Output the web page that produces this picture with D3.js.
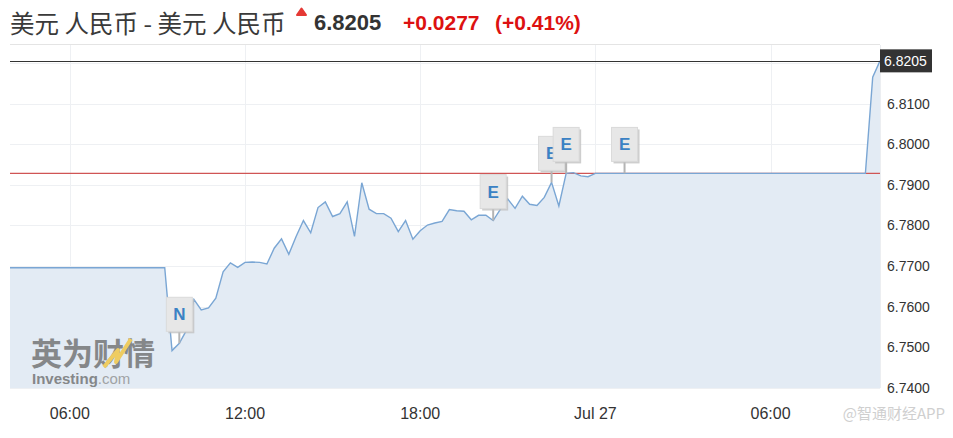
<!DOCTYPE html>
<html>
<head>
<meta charset="UTF-8">
<title>USD CNY</title>
<script src="https://cdn.jsdelivr.net/npm/d3@7"></script>
<style>
body { margin: 0; background: #fff; }
svg { display: block; font-family: "Liberation Sans", Arial, sans-serif; }
.grid line { stroke: #eef0f3; stroke-width: 1; }
.ylab { fill: #333; font-size: 14px; }
.xlab { fill: #333; font-size: 16px; text-anchor: middle; }
</style>
</head>
<body>
<svg width="953" height="438"></svg>
<script>
// 15 minute quotes
var times = [
  "2018-07-26 04:00", "2018-07-26 09:15", "2018-07-26 09:30", "2018-07-26 09:45",
  "2018-07-26 10:00", "2018-07-26 10:15", "2018-07-26 10:30", "2018-07-26 10:45",
  "2018-07-26 11:00", "2018-07-26 11:15", "2018-07-26 11:30", "2018-07-26 11:45",
  "2018-07-26 12:00", "2018-07-26 12:15", "2018-07-26 12:30", "2018-07-26 12:45",
  "2018-07-26 13:00", "2018-07-26 13:15", "2018-07-26 13:30", "2018-07-26 13:45",
  "2018-07-26 14:00", "2018-07-26 14:15", "2018-07-26 14:30", "2018-07-26 14:45",
  "2018-07-26 15:00", "2018-07-26 15:15", "2018-07-26 15:30", "2018-07-26 15:45",
  "2018-07-26 16:00", "2018-07-26 16:15", "2018-07-26 16:30", "2018-07-26 16:45",
  "2018-07-26 17:00", "2018-07-26 17:15", "2018-07-26 17:30", "2018-07-26 17:45",
  "2018-07-26 18:00", "2018-07-26 18:15", "2018-07-26 18:30", "2018-07-26 18:45",
  "2018-07-26 19:00", "2018-07-26 19:15", "2018-07-26 19:30", "2018-07-26 19:45",
  "2018-07-26 20:00", "2018-07-26 20:15", "2018-07-26 20:30", "2018-07-26 20:45",
  "2018-07-26 21:00", "2018-07-26 21:15", "2018-07-26 21:30", "2018-07-26 21:45",
  "2018-07-26 22:00", "2018-07-26 22:15", "2018-07-26 22:30", "2018-07-26 22:45",
  "2018-07-26 23:00", "2018-07-26 23:15", "2018-07-26 23:30", "2018-07-26 23:45",
  "2018-07-27 00:00", "2018-07-27 09:15", "2018-07-27 09:30", "2018-07-27 09:45"
]
var values = [
  6.7696, 6.7696, 6.7492, 6.7510,
  6.7543, 6.7618, 6.7592, 6.7597,
  6.7621, 6.7686, 6.7708, 6.7697,
  6.7709, 6.7710, 6.7709, 6.7705,
  6.7744, 6.7767, 6.7729, 6.7773,
  6.7812, 6.7782, 6.7844, 6.7858,
  6.7822, 6.7829, 6.7858, 6.7773,
  6.7905, 6.7840, 6.7829, 6.7829,
  6.7818, 6.7785, 6.7812, 6.7766,
  6.7787, 6.7801, 6.7806, 6.7810,
  6.7839, 6.7836, 6.7835, 6.7814,
  6.7825, 6.7825, 6.7812, 6.7840,
  6.7865, 6.7842, 6.7872, 6.7852,
  6.7849, 6.7869, 6.7906, 6.7848,
  6.7928, 6.7930, 6.7922, 6.7920,
  6.7928, 6.7928, 6.8165, 6.8205
]
var eventTimes = ["2018-07-26 09:45", "2018-07-26 20:30", "2018-07-26 22:30", "2018-07-26 23:00", "2018-07-27 01:00"]
var eventLabels = ["N", "E", "E", "E", "E"]
var yTicks = [6.74, 6.75, 6.76, 6.77, 6.78, 6.79, 6.80, 6.81]
var prevClose = 6.7928
var lastPrice = 6.8205

var parse = d3.timeParse("%Y-%m-%d %H:%M")
var data = times.map(function(t, i) { return { date: parse(t), value: values[i] } })

var svg = d3.select("svg")
var plotL = 10, plotR = 880, plotT = 45, plotB = 388

// the flat opening run starts a few minutes before the left edge
var x = d3.scaleTime()
  .domain([d3.timeMinute.offset(data[0].date, -3), data[data.length - 1].date])
  .range([plotL, plotR])
var y = d3.scaleLinear().domain([6.74, 6.8244]).range([plotB, plotT])

// header
svg.append("line").attr("x1", plotL).attr("x2", plotR).attr("y1", 44.5).attr("y2", 44.5)
  .attr("stroke", "#e4e4e4")
svg.append("text").attr("x", 10).attr("y", 33)
  .style("font-family", "'Noto Sans CJK SC', sans-serif").style("font-size", "24.5px")
  .attr("fill", "#3a3a3a").text("美元 人民币 - 美元 人民币")
svg.append("path").attr("d", "M297,15 L306,15 L301.5,8.5 Z")
  .attr("fill", "#e53935").attr("stroke", "#e53935").attr("stroke-width", 2).attr("stroke-linejoin", "round")
svg.append("text").attr("x", 314).attr("y", 30).style("font-size", "22px").style("font-weight", "bold")
  .attr("fill", "#333").text(lastPrice.toFixed(4))
svg.append("text").attr("x", 403).attr("y", 30).style("font-size", "21px").style("font-weight", "bold")
  .attr("fill", "#dd1111").text("+0.0277")
svg.append("text").attr("x", 495).attr("y", 30).style("font-size", "21px").style("font-weight", "bold")
  .attr("fill", "#dd1111").text("(+0.41%)")

// grid
var xTicks = x.ticks(d3.timeHour.every(6))
var grid = svg.append("g").attr("class", "grid")
grid.selectAll(".h").data(yTicks.concat([6.82])).enter().append("line")
  .attr("x1", plotL).attr("x2", plotR)
  .attr("y1", function(d) { return Math.round(y(d)) + 0.5 })
  .attr("y2", function(d) { return Math.round(y(d)) + 0.5 })
grid.selectAll(".v").data(xTicks).enter().append("line")
  .attr("y1", plotT).attr("y2", plotB)
  .attr("x1", function(d) { return Math.round(x(d)) + 0.5 })
  .attr("x2", function(d) { return Math.round(x(d)) + 0.5 })
svg.append("line").attr("x1", plotR + 0.5).attr("x2", plotR + 0.5).attr("y1", plotT).attr("y2", plotB)
  .attr("stroke", "#eceef1")

// area + line
var area = d3.area()
  .x(function(d) { return x(d.date) })
  .y0(y(6.74))
  .y1(function(d) { return y(d.value) })
var line = d3.line()
  .x(function(d) { return x(d.date) })
  .y(function(d) { return y(d.value) })

// opening value carried to the left edge of the plot
var drawn = [{ date: x.domain()[0], value: data[0].value }].concat(data)

svg.append("path").datum(drawn).attr("d", area).attr("fill", "#e3ebf4")

// watermark
var wm = svg.append("g").attr("opacity", 0.75)
wm.append("text").attr("x", 31).attr("y", 365)
  .style("font-family", "'Noto Sans CJK SC', sans-serif").style("font-size", "31px").style("font-weight", "bold")
  .attr("fill", "#666").text("英为财情")
wm.append("path").attr("d", "M104,367 L118,350 L116,362 L131,339")
  .attr("fill", "none").attr("stroke", "#f2c230").attr("stroke-width", 4).attr("stroke-linejoin", "round")
wm.append("text").attr("x", 32).attr("y", 384).style("font-size", "15px")
  .attr("fill", "#666")
  .call(function(t) {
    t.append("tspan").style("font-weight", "bold").text("Investing")
    t.append("tspan").attr("fill", "#8a8a8a").text(".com")
  })

svg.append("line").attr("x1", plotL).attr("x2", plotR)
  .attr("y1", y(prevClose)).attr("y2", y(prevClose))
  .attr("stroke", "#d05555").attr("stroke-width", 1.3)

svg.append("path").datum(drawn).attr("d", line)
  .attr("fill", "none").attr("stroke", "#7aa6d4").attr("stroke-width", 1.4)

svg.append("line").attr("x1", plotL).attr("x2", plotR)
  .attr("y1", Math.round(y(lastPrice)) + 0.5).attr("y2", Math.round(y(lastPrice)) + 0.5)
  .attr("stroke", "#333").attr("stroke-width", 1)

// event flags
var bis = d3.bisector(function(d) { return d.date }).right
eventTimes.forEach(function(t, i) {
  var dt = parse(t)
  var d = data[Math.max(0, bis(data, dt) - 1)]
  var px = x(dt), py = y(d.value)
  var w = 26, h = 34, bx = px - w / 2, by = py - 12 - h
  var g = svg.append("g")
  g.append("line").attr("x1", px).attr("x2", px).attr("y1", by + h).attr("y2", py)
    .attr("stroke", "#b4b4b4").attr("stroke-width", 2)
  g.append("rect").attr("x", bx + 2).attr("y", by + 2).attr("width", w).attr("height", h)
    .attr("fill", "#c2c2c2").attr("opacity", 0.8)
  g.append("rect").attr("x", bx).attr("y", by).attr("width", w).attr("height", h)
    .attr("fill", "#e7e7e7").attr("stroke", "#dadada")
  g.append("text").attr("x", px).attr("y", by + h / 2 + 6).attr("text-anchor", "middle")
    .style("font-size", "17px").style("font-weight", "bold").attr("fill", "#3b82c4")
    .text(eventLabels[i])
})

// y axis
svg.selectAll(".ylab").data(yTicks).enter().append("text")
  .attr("class", "ylab").attr("x", 887).attr("y", function(d) { return y(d) })
  .attr("dy", "0.36em").text(function(d) { return d.toFixed(4) })

svg.append("rect").attr("x", plotR).attr("y", y(lastPrice) - 11.5).attr("width", 52).attr("height", 23)
  .attr("fill", "#333")
svg.append("text").attr("x", 884).attr("y", y(lastPrice)).attr("dy", "0.36em")
  .style("font-size", "14px").attr("fill", "#fff").text(lastPrice.toFixed(4))

// x axis
var fmt = function(d) { return d.getHours() === 0 ? d3.timeFormat("%b %d")(d) : d3.timeFormat("%H:%M")(d) }
svg.selectAll(".xlab").data(xTicks).enter().append("text")
  .attr("class", "xlab").attr("x", function(d) { return x(d) }).attr("y", 419)
  .text(fmt)

svg.append("text").attr("x", 945).attr("y", 419).attr("text-anchor", "end")
  .style("font-family", "'Noto Sans CJK SC', sans-serif").style("font-size", "15px")
  .attr("fill", "#cfcfcf").text("@智通财经APP")
</script>
</body>
</html>
